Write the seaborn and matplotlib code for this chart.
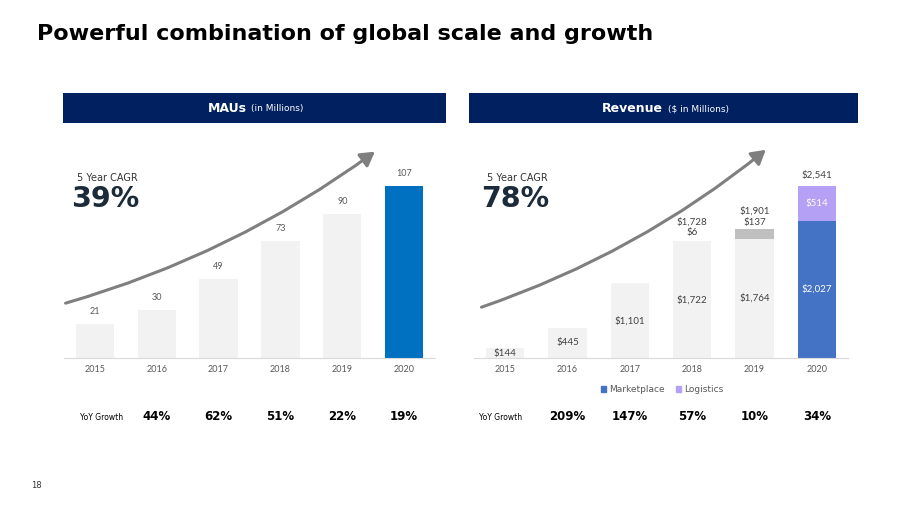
import matplotlib
matplotlib.use("Agg")
import matplotlib.pyplot as plt
import matplotlib.transforms as mtransforms
from matplotlib.patches import Rectangle, Patch, FancyArrowPatch
import seaborn as sns

years = ["2015", "2016", "2017", "2018", "2019", "2020"]
mau = [21, 30, 49, 73, 90, 107]
mau_growth = ["44%", "62%", "51%", "22%", "19%"]

rev_base = [144, 445, 1101, 1722, 1764, 2027]
rev_top = [0, 0, 0, 6, 137, 514]
rev_total = [144, 445, 1101, 1728, 1901, 2541]
rev_growth = ["209%", "147%", "57%", "10%", "34%"]

mau_cagr = "39%"
rev_cagr = "78%"

NAVY = "#002060"
LIGHT = "#F2F2F2"
DARK_TXT = "#1C2B39"
LABEL = "#404040"

sns.set_theme(style="white")
plt.rcParams["font.family"] = ["DejaVu Sans"]

W, H = 921, 518
fig = plt.figure(figsize=(W / 100, H / 100), dpi=100)
fig.patch.set_facecolor("white")


def fx(px):
    return px / W


def fy(py):
    return 1 - py / H


# axes placed from pixel measurements
ax1 = fig.add_axes([fx(64), fy(358), fx(435 - 64), (358 - 140) / H])
ax2 = fig.add_axes([fx(474), fy(358), fx(848 - 474), (358 - 140) / H])

# ---- MAUs ----
mau_colors = [LIGHT] * 5 + ["#0070C0"]
sns.barplot(x=years, y=mau, hue=years, palette=mau_colors, width=0.62,
            saturation=1, legend=False, linewidth=0, ax=ax1)
ax1.set_ylim(0, 136)
for i, v in enumerate(mau):
    ax1.text(i, v + 5, str(v), ha="center", va="bottom", fontsize=6.5,
             color="#595959", family="Lato")

# ---- Revenue ----
base_colors = [LIGHT] * 5 + ["#4472C4"]
sns.barplot(x=years, y=rev_base, hue=years, palette=base_colors, width=0.62,
            saturation=1, legend=False, linewidth=0, ax=ax2)
top_colors = [LIGHT, LIGHT, LIGHT, "#D9D9D9", "#BFBFBF", "#B4A0F5"]
ax2.bar(range(len(years)), rev_top, bottom=rev_base, width=0.62,
        color=top_colors, linewidth=0)
ax2.set_ylim(0, 3220)

for i, v in enumerate(rev_base):
    c = "white" if i == 5 else LABEL
    ax2.text(i, v / 2, f"${v:,}", ha="center", va="center", fontsize=7,
             color=c, family="Lato")
# top segment labels
ax2.text(5, rev_base[5] + rev_top[5] / 2, f"${rev_top[5]:,}", ha="center",
         va="center", fontsize=7, color="white", family="Lato")
ax2.text(5, rev_total[5] + 90, f"${rev_total[5]:,}", ha="center", va="bottom",
         fontsize=7, color=LABEL, family="Lato")
ax2.text(3, rev_total[3] + 60, f"${rev_top[3]:,}", ha="center", va="bottom",
         fontsize=7, color=LABEL, family="Lato")
ax2.text(3, rev_total[3] + 210, f"${rev_total[3]:,}", ha="center", va="bottom",
         fontsize=7, color=LABEL, family="Lato")
ax2.text(4, rev_total[4] + 40, f"${rev_top[4]:,}", ha="center", va="bottom",
         fontsize=7, color=LABEL, family="Lato")
ax2.text(4, rev_total[4] + 200, f"${rev_total[4]:,}", ha="center", va="bottom",
         fontsize=7, color=LABEL, family="Lato")

for ax in (ax1, ax2):
    ax.set_xlim(-0.5, 5.5)
    ax.set_xlabel("")
    ax.set_ylabel("")
    ax.set_yticks([])
    sns.despine(ax=ax, left=True)
    ax.spines["bottom"].set_color("#D9D9D9")
    ax.spines["bottom"].set_linewidth(0.8)
    ax.tick_params(axis="x", length=0, pad=5, labelsize=6.5, labelcolor="#595959")
    for t in ax.get_xticklabels():
        t.set_family("Lato")
    ax.patch.set_alpha(0)

# growth arrows
for ax, start, end in ((ax1, (-0.003, 0.248), (0.844, 0.954)),
                       (ax2, (0.013, 0.229), (0.786, 0.963))):
    arr = FancyArrowPatch(start, end, transform=ax.transAxes,
                          connectionstyle="arc3,rad=0.09",
                          arrowstyle="-|>,head_length=0.6,head_width=0.35",
                          mutation_scale=14, color="#7F7F7F", linewidth=2.2,
                          clip_on=False)
    ax.add_patch(arr)

# CAGR text
for ax, val in ((ax1, mau_cagr), (ax2, rev_cagr)):
    ax.text(0.035, 0.825, "5 Year CAGR", transform=ax.transAxes, fontsize=7,
            color="#333333", ha="left", va="center")
    ax.text(0.02, 0.73, val, transform=ax.transAxes, fontsize=20.5,
            fontweight="bold", color=DARK_TXT, ha="left", va="center")

# header boxes
for x0, x1 in ((63, 446), (469, 858)):
    fig.add_artist(Rectangle((fx(x0), fy(123)), fx(x1 - x0), 30 / H,
                             transform=fig.transFigure, facecolor=NAVY,
                             edgecolor="none"))
fig.text(fx(247), fy(109), "MAUs", ha="right", va="center", fontsize=9,
         fontweight="bold", color="white")
fig.text(fx(251), fy(109), "(in Millions)", ha="left", va="center",
         fontsize=6.5, color="white")
fig.text(fx(663), fy(109), "Revenue", ha="right", va="center", fontsize=9,
         fontweight="bold", color="white")
fig.text(fx(668), fy(109), "($ in Millions)", ha="left", va="center",
         fontsize=6.5, color="white")

# title and page number
fig.text(fx(37), fy(34), "Powerful combination of global scale and growth",
         ha="left", va="center", fontsize=16, fontweight="bold", color="black")
fig.text(fx(31), fy(485), "18", ha="left", va="center", fontsize=6, color="#333333")

# legend
handles = [Patch(color="#4472C4", label="Marketplace"),
           Patch(color="#B4A0F5", label="Logistics")]
fig.legend(handles=handles, loc="center", bbox_to_anchor=(fx(662), fy(390)),
           ncol=2, frameon=False, fontsize=6.5, handlelength=0.6,
           handleheight=0.6, handletextpad=0.3, columnspacing=1.2,
           labelcolor="#595959")

# YoY growth rows
for ax, vals, lx in ((ax1, mau_growth, 80), (ax2, rev_growth, 479)):
    fig.text(fx(lx), fy(418), "YoY Growth", ha="left", va="center",
             fontsize=5.5, color="black")
    tr = mtransforms.blended_transform_factory(ax.transData, fig.transFigure)
    for i, v in enumerate(vals):
        ax.text(i + 1, fy(417), v, transform=tr, ha="center", va="center",
                fontsize=8.5, fontweight="bold", color="black")

fig.savefig("out.png", dpi=100)
